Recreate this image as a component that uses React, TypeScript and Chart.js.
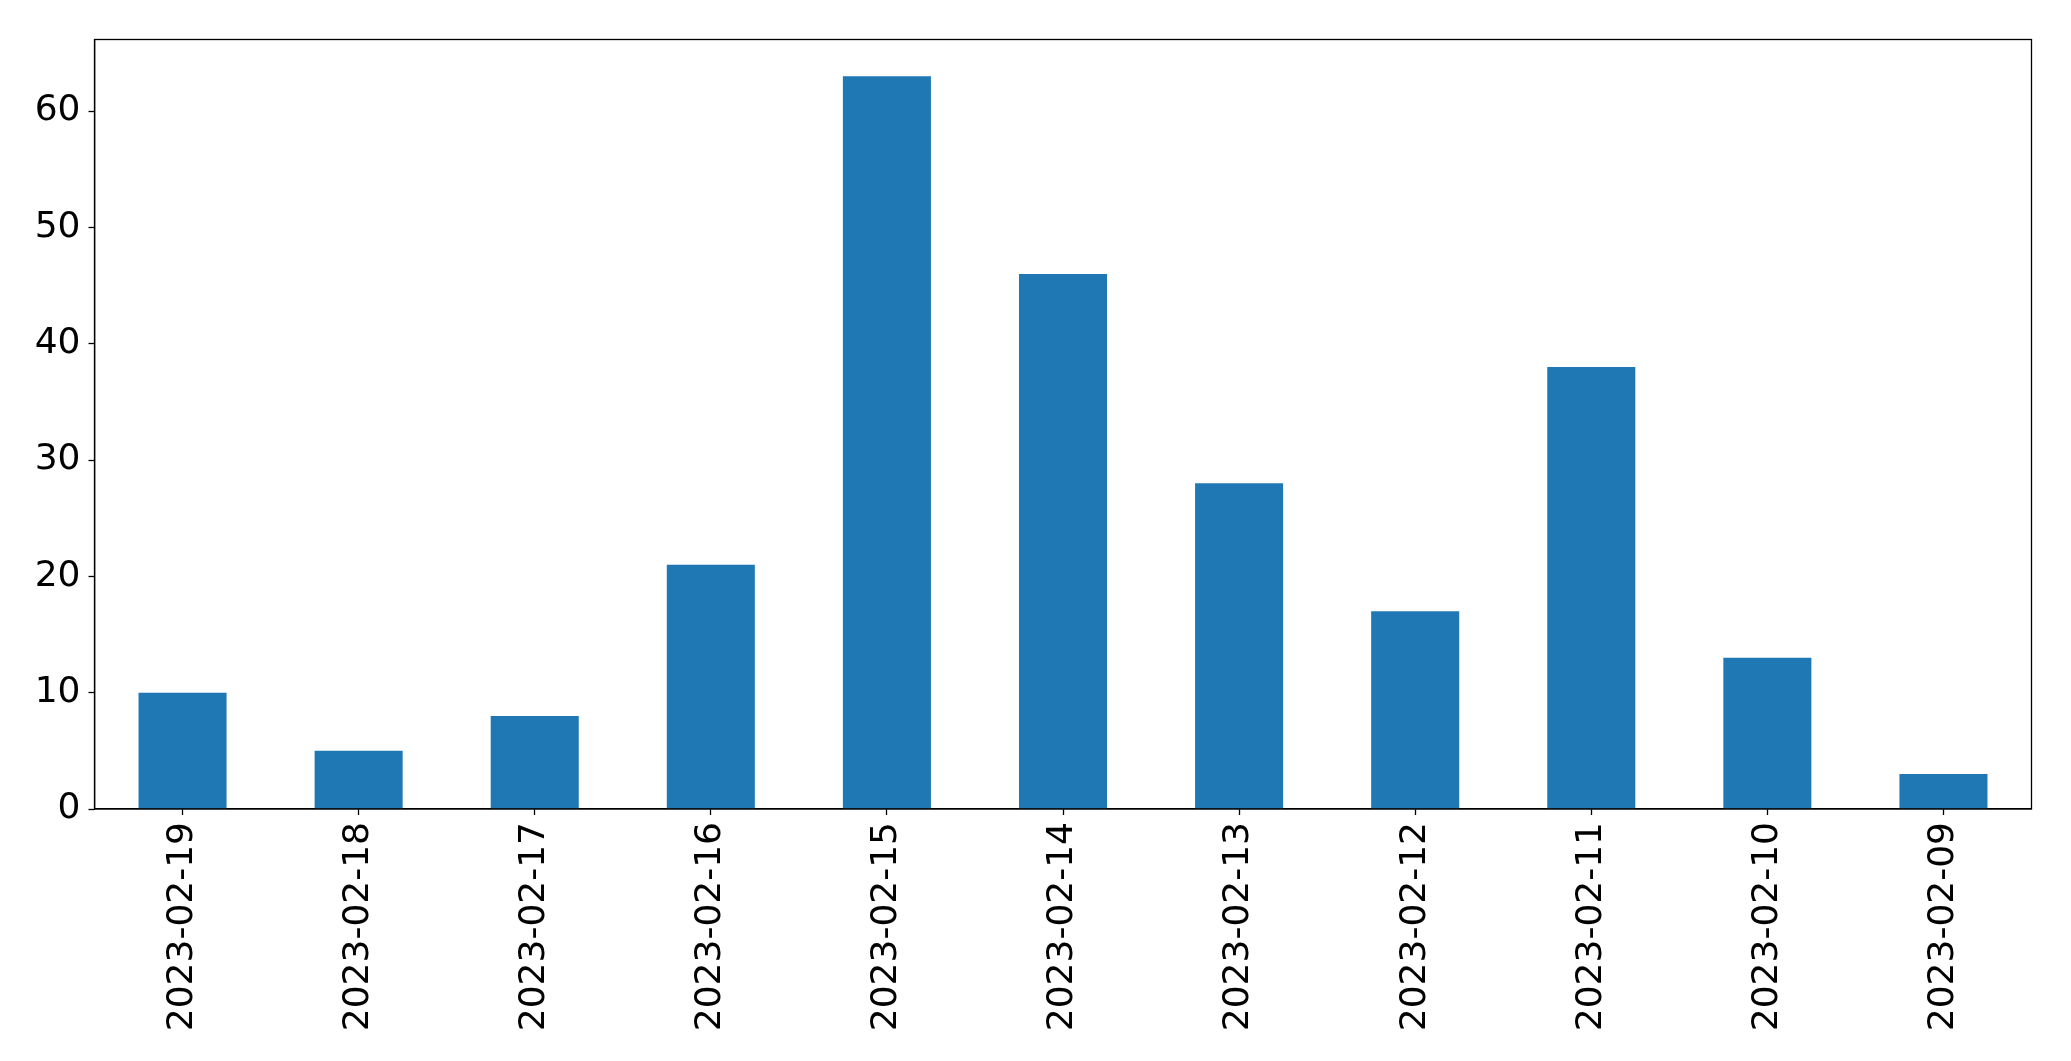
import React, { useEffect, useRef } from "react";
import { Chart, registerables } from "chart.js";

Chart.register(...registerables);

const categories = [
  "2023-02-19", "2023-02-18", "2023-02-17", "2023-02-16", "2023-02-15", "2023-02-14",
  "2023-02-13", "2023-02-12", "2023-02-11", "2023-02-10", "2023-02-09",
];
const counts = [10, 5, 8, 21, 63, 46, 28, 17, 38, 13, 3];
const yMax = 66.15;
const yStep = 10;

const W = 2071;
const H = 1061;

const frame = {
  id: "frame",
  afterDraw(chart: any) {
    const { ctx, chartArea } = chart;
    ctx.save();
    ctx.strokeStyle = "#000";
    ctx.lineWidth = 1.3;
    ctx.strokeRect(chartArea.left, chartArea.top, chartArea.right - chartArea.left, chartArea.bottom - chartArea.top);
    ctx.restore();
  },
};

export default function App() {
  const ref = useRef<HTMLCanvasElement>(null);
  useEffect(() => {
    const font = { family: "'DejaVu Sans', sans-serif", size: 36 };
    const chart = new Chart(ref.current!, {
      type: "bar",
      data: {
        labels: categories,
        datasets: [
          {
            data: counts,
            backgroundColor: "#1f77b4",
            barPercentage: 0.5,
            categoryPercentage: 1.0,
          },
        ],
      },
      options: {
        responsive: false,
        animation: false,
        devicePixelRatio: 1,
        layout: { padding: { top: 39.5, right: 39.5, left: 0, bottom: 0 } },
        plugins: { legend: { display: false }, tooltip: { enabled: false } },
        scales: {
          x: {
            offset: true,
            grid: { offset: false, drawOnChartArea: false, drawTicks: true, tickLength: 6, tickColor: "#000", tickWidth: 1.3 },
            border: { display: true, color: "#000", width: 1.3 },
            ticks: { color: "#000", font, minRotation: 90, maxRotation: 90, autoSkip: false, padding: 7 },
            afterFit(scale: any) {
              scale.height = H - 809;
            },
          },
          y: {
            min: 0,
            max: yMax,
            grid: { drawOnChartArea: false, drawTicks: true, tickLength: 6, tickColor: "#000", tickWidth: 1.3 },
            border: { display: true, color: "#000", width: 1.3 },
            ticks: { color: "#000", font, stepSize: yStep, includeBounds: false, padding: 8 },
            afterFit(scale: any) {
              scale.width = 94.5;
            },
          },
        },
      },
      plugins: [frame],
    });
    return () => chart.destroy();
  }, []);
  return (
    <div style={{ position: "fixed", left: 0, top: 0, width: W, height: H, background: "#fff" }}>
      <canvas ref={ref} width={W} height={H} style={{ width: W, height: H, display: "block" }} />
    </div>
  );
}
